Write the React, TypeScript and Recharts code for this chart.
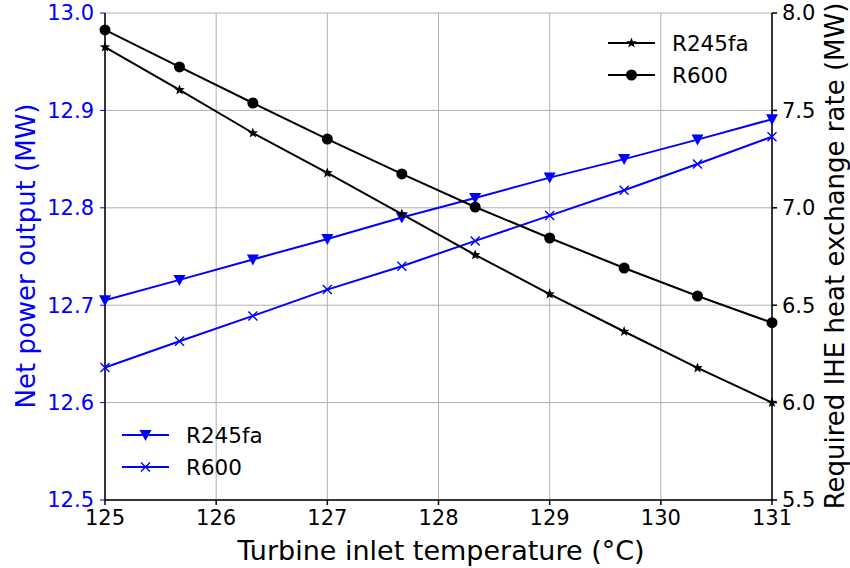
import { LineChart, Line, XAxis, YAxis, CartesianGrid, Label } from 'recharts';

const temps = [125, 125.67, 126.33, 127, 127.67, 128.33, 129, 129.67, 130.33, 131];
const netR245fa = [12.705, 12.726, 12.747, 12.768, 12.79, 12.81, 12.831, 12.85, 12.87, 12.891];
const netR600 = [12.636, 12.663, 12.689, 12.716, 12.74, 12.766, 12.792, 12.818, 12.845, 12.873];
const iheR245fa = [7.825, 7.605, 7.384, 7.179, 6.968, 6.758, 6.557, 6.365, 6.178, 6.0];
const iheR600 = [7.913, 7.723, 7.538, 7.353, 7.174, 7.004, 6.845, 6.691, 6.547, 6.41];

const xTicks = [125, 126, 127, 128, 129, 130, 131];
const leftTicks = [12.5, 12.6, 12.7, 12.8, 12.9, 13.0];
const rightTicks = [5.5, 6.0, 6.5, 7.0, 7.5, 8.0];

const data = temps.map((t, i) => ({
  t,
  netR245fa: netR245fa[i],
  netR600: netR600[i],
  iheR245fa: iheR245fa[i],
  iheR600: iheR600[i],
}));

const BLUE = '#0000ff';
const FONT = 'DejaVu Sans, sans-serif';

const TriDown = ({ cx, cy, color = BLUE }: any) => (
  <polygon points={`${cx - 6},${cy - 5} ${cx + 6},${cy - 5} ${cx},${cy + 6}`} fill={color} />
);

const XMark = ({ cx, cy, color = BLUE }: any) => (
  <g stroke={color} strokeWidth={1.4}>
    <line x1={cx - 4.5} y1={cy - 4.5} x2={cx + 4.5} y2={cy + 4.5} />
    <line x1={cx - 4.5} y1={cy + 4.5} x2={cx + 4.5} y2={cy - 4.5} />
  </g>
);

const Star = ({ cx, cy, color = '#000' }: any) => {
  const pts: string[] = [];
  for (let k = 0; k < 10; k++) {
    const r = k % 2 === 0 ? 5.5 : 2.3;
    const a = -Math.PI / 2 + (k * Math.PI) / 5;
    pts.push(`${cx + r * Math.cos(a)},${cy + r * Math.sin(a)}`);
  }
  return <polygon points={pts.join(' ')} fill={color} />;
};

const Dot = ({ cx, cy, color = '#000' }: any) => <circle cx={cx} cy={cy} r={5.5} fill={color} />;

const fmt1 = (v: number) => v.toFixed(1);

function LegendBox({ left, top, color, rows }: any) {
  return (
    <div style={{ position: 'absolute', left, top }}>
      {rows.map((r: any, i: number) => (
        <div key={i} style={{ display: 'flex', alignItems: 'center', height: 32 }}>
          <svg width={50} height={20}>
            <line x1={1} y1={10} x2={48} y2={10} stroke={color} strokeWidth={2} />
            {r.marker({ cx: 24.5, cy: 10, color })}
          </svg>
          <span style={{ fontFamily: FONT, fontSize: 21.5, color: '#000', marginLeft: 15 }}>{r.label}</span>
        </div>
      ))}
    </div>
  );
}

export default function App() {
  return (
    <div style={{ position: 'absolute', left: 0, top: 0, width: 850, height: 568, background: '#fff' }}>
      <LineChart width={850} height={568} data={data} margin={{ top: 13, right: 0, bottom: 0, left: 0 }}>
        <CartesianGrid yAxisId="left" stroke="#b0b0b0" strokeWidth={1} />
        <XAxis
          dataKey="t"
          type="number"
          domain={[125, 131]}
          ticks={xTicks}
          height={68}
          stroke="#000"
          strokeWidth={1.5}
          tickSize={5}
          tickMargin={5}
          tick={{ fill: '#000', fontSize: 21, fontFamily: FONT }}
          tickLine={{ stroke: '#000' }}
        >
          <Label
            content={() => (
              <text x={441} y={560} textAnchor="middle" fontSize={27} fontFamily={FONT} fill="#000">
                Turbine inlet temperature (°C)
              </text>
            )}
          />
        </XAxis>
        <XAxis xAxisId="top" orientation="top" dataKey="t" type="number" domain={[125, 131]} height={0} tick={false} tickLine={false} stroke="#000" strokeWidth={1.5} />
        <YAxis
          yAxisId="left"
          domain={[12.5, 13]}
          ticks={leftTicks}
          width={105}
          tickFormatter={fmt1}
          stroke={BLUE}
          tickSize={5}
          tickMargin={6}
          axisLine={{ stroke: '#000', strokeWidth: 1.5 }}
          tick={{ fill: BLUE, fontSize: 21, fontFamily: FONT }}
        >
          <Label
            content={() => (
              <text x={35} y={256} transform="rotate(-90 35 256)" textAnchor="middle" fontSize={26} fontFamily={FONT} fill={BLUE}>
                Net power output (MW)
              </text>
            )}
          />
        </YAxis>
        <YAxis
          yAxisId="right"
          orientation="right"
          domain={[5.5, 8]}
          ticks={rightTicks}
          width={78}
          tickFormatter={fmt1}
          stroke="#000"
          strokeWidth={1.5}
          tickSize={5}
          tickMargin={5}
          tick={{ fill: '#000', fontSize: 21, fontFamily: FONT }}
        >
          <Label
            content={() => (
              <text x={844} y={256} transform="rotate(-90 844 256)" textAnchor="middle" fontSize={26} fontFamily={FONT} fill="#000">
                Required IHE heat exchange rate (MW)
              </text>
            )}
          />
        </YAxis>
        <Line yAxisId="left" dataKey="netR245fa" stroke={BLUE} strokeWidth={2} dot={<TriDown />} isAnimationActive={false} />
        <Line yAxisId="left" dataKey="netR600" stroke={BLUE} strokeWidth={2} dot={<XMark />} isAnimationActive={false} />
        <Line yAxisId="right" dataKey="iheR245fa" stroke="#000" strokeWidth={2} dot={<Star />} isAnimationActive={false} />
        <Line yAxisId="right" dataKey="iheR600" stroke="#000" strokeWidth={2} dot={<Dot />} isAnimationActive={false} />
      </LineChart>
      <LegendBox
        left={607}
        top={27}
        color="#000"
        rows={[
          { label: 'R245fa', marker: Star },
          { label: 'R600', marker: Dot },
        ]}
      />
      <LegendBox
        left={121}
        top={419}
        color={BLUE}
        rows={[
          { label: 'R245fa', marker: TriDown },
          { label: 'R600', marker: XMark },
        ]}
      />
    </div>
  );
}
